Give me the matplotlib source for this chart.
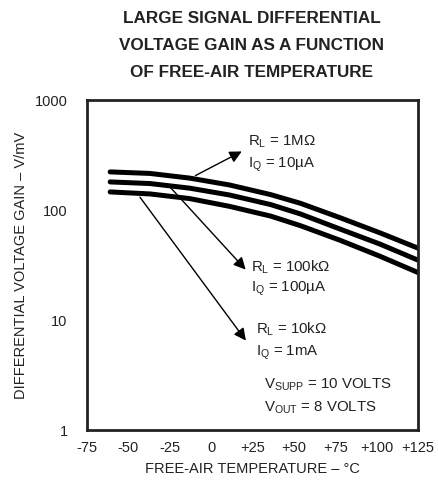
import matplotlib
matplotlib.use("Agg")
import matplotlib.pyplot as plt
from matplotlib.ticker import FixedLocator, NullLocator

plt.rcParams['font.family'] = ['Liberation Sans', 'DejaVu Sans']
plt.rcParams['mathtext.fontset'] = 'custom'
plt.rcParams['mathtext.rm'] = 'Liberation Sans'
plt.rcParams['mathtext.it'] = 'Liberation Sans'

# Data
temps = [-61, -37, -13, 11, 36, 54, 78, 102, 125]
gain_1meg = [222, 215, 195, 169, 138, 115, 85, 62, 45]   # RL=1MΩ, IQ=10µA
gain_100k = [180, 174, 158, 137, 112, 92, 67, 49, 35]    # RL=100kΩ, IQ=100µA
gain_10k = [146, 140, 127, 108, 88, 72, 53, 38, 27]      # RL=10kΩ, IQ=1mA
x_ticks = [-75, -50, -25, 0, 25, 50, 75, 100, 125]
x_labels = ["-75", "-50", "-25", "0", "+25", "+50", "+75", "+100", "+125"]
y_ticks = [1, 10, 100, 1000]
y_labels = ["1", "10", "100", "1000"]

fig = plt.figure(figsize=(4.38, 4.90), dpi=100)
ax = fig.add_axes([87/438, 60/490, 331/438, 330/490])

for g in (gain_1meg, gain_100k, gain_10k):
    ax.plot(temps, g, color='black', lw=3.6, solid_capstyle='round',
            solid_joinstyle='round')

ax.set_yscale('log')
ax.set_xlim(-75, 125)
ax.set_ylim(1, 1000)
ax.xaxis.set_major_locator(FixedLocator(x_ticks))
ax.set_xticklabels(x_labels)
ax.yaxis.set_major_locator(FixedLocator(y_ticks))
ax.yaxis.set_minor_locator(NullLocator())
ax.set_yticklabels(y_labels)
ax.tick_params(axis='both', length=0, labelsize=10.5, colors='#222222')
ax.tick_params(axis='x', pad=8)
ax.tick_params(axis='y', pad=14)
for s in ax.spines.values():
    s.set_linewidth(2.0)
    s.set_color('#222222')

ax.set_xlabel("FREE-AIR TEMPERATURE – °C", fontsize=10.5, labelpad=5, color='#222222')
ax.set_ylabel("DIFFERENTIAL VOLTAGE GAIN – V/mV", fontsize=10.5, labelpad=5, color='#222222')

for txt, yy in (("LARGE SIGNAL DIFFERENTIAL", 0.963),
                ("VOLTAGE GAIN AS A FUNCTION", 0.908),
                ("OF FREE-AIR TEMPERATURE", 0.853)):
    fig.text(0.575, yy, txt, ha='center', va='center',
             fontsize=12.3, fontweight='bold', color='#222222')

arrowprops = dict(arrowstyle='-|>', color='black', lw=1.0, mutation_scale=18)
ax.annotate("", xy=(20, 350), xytext=(-11, 200), arrowprops=arrowprops)
ax.annotate("", xy=(22, 27.5), xytext=(-26, 169), arrowprops=arrowprops)
ax.annotate("", xy=(22, 6.2), xytext=(-44, 137), arrowprops=arrowprops)

fs = 10.8
c = '#222222'
ax.text(22.5, 420, r"R$_\mathrm{L}$ = 1MΩ", fontsize=fs, va='center', ha='left', color=c)
ax.text(22.5, 255, r"I$_\mathrm{Q}$ = 10µA", fontsize=fs, va='center', ha='left', color=c)
ax.text(24, 30, r"R$_\mathrm{L}$ = 100kΩ", fontsize=fs, va='center', ha='left', color=c)
ax.text(24, 19, r"I$_\mathrm{Q}$ = 100µA", fontsize=fs, va='center', ha='left', color=c)
ax.text(27, 8.2, r"R$_\mathrm{L}$ = 10kΩ", fontsize=fs, va='center', ha='left', color=c)
ax.text(27, 5.0, r"I$_\mathrm{Q}$ = 1mA", fontsize=fs, va='center', ha='left', color=c)
ax.text(32, 2.6, r"V$_\mathrm{SUPP}$ = 10 VOLTS", fontsize=fs, va='center', ha='left', color=c)
ax.text(32, 1.6, r"V$_\mathrm{OUT}$ = 8 VOLTS", fontsize=fs, va='center', ha='left', color=c)

fig.savefig("out.png", dpi=100)
